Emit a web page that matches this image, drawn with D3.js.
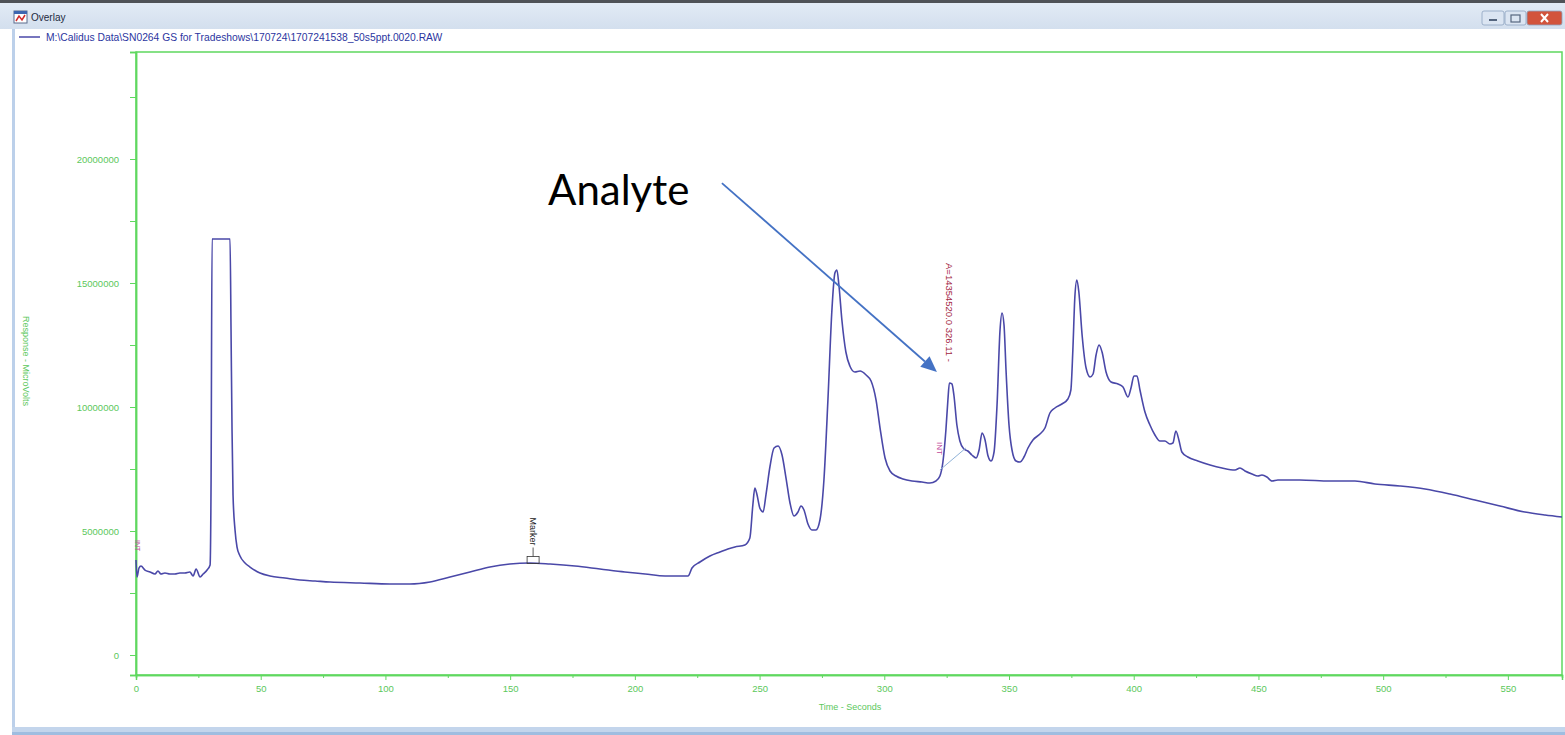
<!DOCTYPE html>
<html>
<head>
<meta charset="utf-8">
<script src="https://cdn.jsdelivr.net/npm/d3@7"></script>
<style>
  html, body { margin: 0; padding: 0; background: #ffffff; }
  svg { display: block; font-family: "Liberation Sans", Arial, sans-serif; }
</style>
</head>
<body>
<svg id="chart" width="1565" height="735"></svg>
<script>
// Chromatogram trace: retention time (s) and detector response (µV)
const timeSec = [
  0, 0.4, 1.2, 2.0, 3.6, 5.6, 7.6, 8.8, 10.0, 11.6, 13.6, 15.6, 17.6, 19.6, 21.6, 22.9, 24.1, 25.7, 26.9, 28.5,
  29.7, 30.1, 30.5, 37.7, 38.1, 38.5, 38.9, 39.7, 40.5, 41.7, 43.7, 45.7, 49.7, 53.7, 59.7, 65.7, 71.8, 77.8,
  89.8, 101.8, 109.8, 117.9, 125.9, 133.9, 141.9, 149.9, 157.9, 166.0, 176.0, 186.0, 196.0, 204.1, 212.1, 221.3,
  222.9, 226.1, 230.1, 234.1, 237.3, 240.1, 244.1, 246.1, 247.3, 248.1, 248.9, 250.1, 251.4, 252.6, 254.2, 255.8,
  257.4, 259.0, 260.6, 262.2, 263.8, 265.4, 266.6, 267.8, 269.4, 271.0, 272.6, 274.2, 275.8, 277.4, 279.0, 280.2,
  281.0, 281.8, 283.0, 284.6, 286.2, 288.2, 290.3, 292.7, 294.7, 296.7, 298.3, 300.3, 302.3, 304.7, 307.5, 311.1,
  315.1, 318.3, 320.7, 322.3, 323.5, 324.7, 325.5, 326.1, 327.1, 327.9, 329.1, 330.3, 331.9, 333.5, 335.1, 336.8,
  338.0, 339.2, 340.4, 341.6, 342.8, 344.0, 345.2, 346.4, 347.2, 348.0, 348.8, 350.0, 351.2, 352.8, 354.4, 356.0,
  357.6, 359.6, 362.4, 364.4, 366.4, 368.4, 371.2, 373.6, 374.8, 375.6, 376.4, 377.2, 378.0, 379.3, 380.9, 382.5,
  383.7, 384.9, 386.1, 387.3, 388.9, 390.9, 393.7, 395.7, 397.7, 398.9, 400.1, 401.3, 402.5, 404.5, 406.5, 408.5,
  410.5, 412.5, 414.5, 415.7, 416.9, 418.1, 419.3, 421.7, 425.7, 430.6, 435.4, 440.6, 442.6, 444.6, 447.4, 449.8,
  451.4, 453.4, 455.4, 457.8, 466.6, 478.7, 488.7, 496.7, 506.7, 516.8, 526.8, 536.8, 546.8, 556.8, 564.9, 571.7
];
const responseUV = [
  3831000, 3145000, 3508000, 3589000, 3427000, 3347000, 3266000, 3387000, 3266000, 3306000, 3266000, 3266000, 3306000, 3306000, 3347000, 3186000, 3468000, 3145000, 3266000, 3427000,
  3629000, 7057000, 16774000, 16774000, 13105000, 9073000, 6452000, 5040000, 4355000, 3992000, 3710000, 3548000, 3306000, 3186000, 3105000, 3024000, 2984000, 2944000,
  2903000, 2863000, 2863000, 2944000, 3145000, 3347000, 3548000, 3669000, 3710000, 3669000, 3589000, 3468000, 3347000, 3266000, 3186000, 3186000,
  3508000, 3750000, 3992000, 4153000, 4274000, 4355000, 4436000, 4718000, 6048000, 6734000, 6492000, 5927000, 5766000, 6492000, 7621000, 8347000,
  8428000, 8065000, 7137000, 6129000, 5605000, 5766000, 6008000, 5847000, 5282000, 5040000, 5040000, 5444000, 7057000, 10282000, 13911000, 15403000,
  15524000, 14920000, 13508000, 12218000, 11653000, 11411000, 11452000, 11290000, 11049000, 10282000, 9153000, 7944000, 7419000, 7218000, 7097000, 7016000,
  6976000, 6936000, 7016000, 7218000, 7782000, 9073000, 10282000, 10968000, 10928000, 10484000, 9274000, 8629000, 8307000, 8226000, 8065000, 7944000,
  8266000, 8952000, 8669000, 8024000, 7823000, 8186000, 10081000, 13105000, 13790000, 13307000, 11492000, 9274000, 8266000, 7823000, 7782000, 7984000,
  8347000, 8669000, 8911000, 9153000, 9758000, 9960000, 10121000, 10323000, 10686000, 12298000, 14436000, 15121000, 14637000, 12903000, 11573000, 11210000,
  11331000, 12097000, 12500000, 12218000, 11411000, 11008000, 10928000, 10807000, 10403000, 10766000, 11250000, 11250000, 10686000, 9798000, 9274000, 8871000,
  8629000, 8629000, 8508000, 8548000, 9032000, 8669000, 8186000, 7984000, 7823000, 7661000, 7540000, 7460000, 7540000, 7419000, 7298000, 7218000,
  7258000, 7177000, 7016000, 7057000, 7057000, 7016000, 7016000, 6895000, 6815000, 6694000, 6492000, 6250000, 6008000, 5766000, 5645000, 5565000
];

// Axis ticks
const yTickValues = [0, 5000000, 10000000, 15000000, 20000000];
const yTickLabels = ["0", "5000000", "10000000", "15000000", "20000000"];
const yMinorValues = [2500000, 7500000, 12500000, 17500000, 22500000];
const xTickValues = [0, 50, 100, 150, 200, 250, 300, 350, 400, 450, 500, 550];
const xMinorValues = [25, 75, 125, 175, 225, 275, 325, 375, 425, 475, 525];

// Integrated peak and marker annotations
const peakTime = 326.11;
const peakArea = 14354520.0;
const peakBaselineTimes = [322.3, 332.7];
const peakBaselineValues = [7460000, 8347000];
const markerTime = 159.2;
const markerValue = 3690000;
const callout = { text: "Analyte", textTime: 165.2, textValue: 18150000,
                  fromTime: 234.9, fromValue: 19030000, toTime: 321.1, toValue: 11410000 };
const fileName = "M:\\Calidus Data\\SN0264 GS for Tradeshows\\170724\\1707241538_50s5ppt.0020.RAW";

const svg = d3.select("#chart");
const W = 1565, H = 735;

const green = "#5fd85f";
const greenText = "#5cc85c";
const traceColor = "#4a48a8";

// ---- window chrome ----
const defs = svg.append("defs");
const tb = defs.append("linearGradient").attr("id", "titlebar").attr("x1", 0).attr("y1", 0).attr("x2", 0).attr("y2", 1);
tb.append("stop").attr("offset", "0%").attr("stop-color", "#e4ecf6");
tb.append("stop").attr("offset", "100%").attr("stop-color", "#d3dfee");

svg.append("rect").attr("x", 0).attr("y", 0).attr("width", W).attr("height", H).attr("fill", "#ffffff");
svg.append("rect").attr("x", 0).attr("y", 0).attr("width", W).attr("height", 29).attr("fill", "url(#titlebar)");
svg.append("rect").attr("x", 0).attr("y", 0).attr("width", W).attr("height", 3).attr("fill", "#4f5257");
svg.append("rect").attr("x", 12).attr("y", 29).attr("width", 3).attr("height", 700).attr("fill", "#bcd0ea");
svg.append("rect").attr("x", 12).attr("y", 727).attr("width", W - 12).attr("height", 8).attr("fill", "#c3d5ec");
svg.append("rect").attr("x", 12).attr("y", 732).attr("width", W - 12).attr("height", 3).attr("fill", "#9fbde0");

// title icon and caption
const icon = svg.append("g").attr("transform", "translate(14,11)");
icon.append("rect").attr("width", 13).attr("height", 12).attr("fill", "#ffffff").attr("stroke", "#5a6b8c");
icon.append("rect").attr("width", 13).attr("height", 3).attr("fill", "#3d66b0");
icon.append("path").attr("d", "M2,10 L5,5 L8,9 L11,4").attr("fill", "none").attr("stroke", "#d02a2a").attr("stroke-width", 1.5);
svg.append("text").attr("x", 31).attr("y", 21).attr("font-size", 10).attr("fill", "#1e2a40").text("Overlay");

// window buttons
const btns = [
  { x: 1482, w: 22, fill: "#dbe5f2" },
  { x: 1505, w: 21, fill: "#dbe5f2" },
  { x: 1527, w: 35, fill: "#d2543c" }
];
btns.forEach(b => {
  svg.append("rect").attr("x", b.x).attr("y", 11).attr("width", b.w).attr("height", 14).attr("rx", 2)
    .attr("fill", b.fill).attr("stroke", "#8ea3c0").attr("stroke-width", 0.8);
});
svg.append("line").attr("x1", 1489).attr("x2", 1497).attr("y1", 20).attr("y2", 20).attr("stroke", "#55667f").attr("stroke-width", 2);
svg.append("rect").attr("x", 1511).attr("y", 15).attr("width", 9).attr("height", 7).attr("fill", "none").attr("stroke", "#55667f").attr("stroke-width", 1.2);
svg.append("path").attr("d", "M1541,14 L1548,22 M1548,14 L1541,22").attr("stroke", "#ffffff").attr("stroke-width", 2);

// legend entry
svg.append("line").attr("x1", 19).attr("x2", 40).attr("y1", 37).attr("y2", 37).attr("stroke", traceColor).attr("stroke-width", 1.5);
svg.append("text").attr("x", 46).attr("y", 40.5).attr("font-size", 10.3).attr("fill", "#2b35a0").text(fileName);

// ---- plot area ----
const plot = { left: 136, right: 1562, top: 52, bottom: 675 };

const x = d3.scaleLinear().domain([0, 571.7]).range([plot.left, plot.right]);
const y = d3.scaleLinear().domain([-806000, 24315000]).range([plot.bottom, plot.top]);

// frame
svg.append("rect").attr("x", plot.left).attr("y", plot.top)
  .attr("width", plot.right - plot.left).attr("height", plot.bottom - plot.top)
  .attr("fill", "none").attr("stroke", green).attr("stroke-width", 1.5);

// y axis
const yAxis = svg.append("g").attr("transform", `translate(${plot.left},0)`)
  .call(d3.axisLeft(y).tickValues(yTickValues).tickSize(6).tickPadding(11)
        .tickFormat((d, i) => yTickLabels[i]));
const yMinor = svg.append("g").attr("transform", `translate(${plot.left},0)`)
  .call(d3.axisLeft(y).tickValues(yMinorValues).tickSize(6).tickFormat(""));

// x axis
const xAxis = svg.append("g").attr("transform", `translate(0,${plot.bottom})`)
  .call(d3.axisBottom(x).tickValues(xTickValues).tickSize(5).tickPadding(5).tickFormat(d3.format("d")));
const xMinor = svg.append("g").attr("transform", `translate(0,${plot.bottom})`)
  .call(d3.axisBottom(x).tickValues(xMinorValues).tickSize(3).tickFormat(""));

[yAxis, yMinor, xAxis, xMinor].forEach(g => {
  g.select(".domain").attr("stroke", green).attr("stroke-width", 1.5);
  g.selectAll(".tick line").attr("stroke", green).attr("stroke-width", 1);
  g.selectAll(".tick text").attr("fill", greenText).attr("font-size", 9.5)
    .attr("font-family", "'Liberation Sans', Arial, sans-serif");
});

// axis titles
svg.append("text").attr("transform", "translate(23,361) rotate(90)")
  .attr("text-anchor", "middle").attr("font-size", 9).attr("fill", greenText)
  .text("Response - MicroVolts");
svg.append("text").attr("x", 850).attr("y", 710).attr("text-anchor", "middle")
  .attr("font-size", 9).attr("fill", greenText).text("Time - Seconds");

// ---- trace ----
const pts = timeSec.map((t, i) => [t, responseUV[i]]);
const line = d3.line().x(d => x(d[0])).y(d => y(d[1])).curve(d3.curveMonotoneX);
svg.append("path").datum(pts).attr("d", line)
  .attr("fill", "none").attr("stroke", traceColor).attr("stroke-width", 1.6).attr("stroke-linejoin", "round");

// ---- peak integration annotations ----
svg.append("line")
  .attr("x1", x(peakBaselineTimes[0])).attr("y1", y(peakBaselineValues[0]))
  .attr("x2", x(peakBaselineTimes[1])).attr("y2", y(peakBaselineValues[1]))
  .attr("stroke", "#8fb2d8").attr("stroke-width", 1);

const peakTop = d3.max(pts.filter(d => Math.abs(d[0] - peakTime) < 1.5), d => d[1]);
svg.append("text")
  .attr("transform", `translate(${x(peakTime) - 3},${y(peakTop) - 120}) rotate(90)`)
  .attr("font-size", 9.5).attr("fill", "#a3263f")
  .text(`A=${peakArea.toFixed(1)}  ${peakTime.toFixed(2)} -`);

svg.append("text")
  .attr("transform", `translate(${x(peakBaselineTimes[0]) - 3},${y(peakBaselineValues[0]) - 28}) rotate(90)`)
  .attr("font-size", 8).attr("fill", "#c0469a").text("INT");
svg.append("text")
  .attr("transform", `translate(${x(0) - 1},${y(responseUV[0]) - 20}) rotate(90)`)
  .attr("font-size", 7).attr("fill", "#c0469a").text("INT");

// marker flag
const mx = x(markerTime), my = y(markerValue);
svg.append("rect").attr("x", mx - 6).attr("y", my - 7).attr("width", 12).attr("height", 7)
  .attr("fill", "none").attr("stroke", "#333").attr("stroke-width", 0.8);
svg.append("line").attr("x1", mx).attr("x2", mx).attr("y1", my - 7).attr("y2", my - 16)
  .attr("stroke", "#333").attr("stroke-width", 0.8);
svg.append("text").attr("transform", `translate(${mx - 3},${my - 46}) rotate(90)`)
  .attr("font-size", 9).attr("fill", "#222").text("Marker");

// ---- analyte callout ----
svg.append("text").attr("x", x(callout.textTime)).attr("y", y(callout.textValue))
  .attr("font-family", "Lato, 'Open Sans', sans-serif").attr("font-size", 42).attr("fill", "#000")
  .text(callout.text);

const ax1 = x(callout.fromTime), ay1 = y(callout.fromValue);
const ax2 = x(callout.toTime), ay2 = y(callout.toValue);
const ang = Math.atan2(ay2 - ay1, ax2 - ax1);
const headLen = 16, headW = 7;
const bx = ax2 - headLen * Math.cos(ang), by = ay2 - headLen * Math.sin(ang);
svg.append("line").attr("x1", ax1).attr("y1", ay1).attr("x2", bx).attr("y2", by)
  .attr("stroke", "#4472c4").attr("stroke-width", 1.8);
svg.append("path")
  .attr("d", `M${ax2},${ay2} L${bx + headW * Math.sin(ang)},${by - headW * Math.cos(ang)} L${bx - headW * Math.sin(ang)},${by + headW * Math.cos(ang)} Z`)
  .attr("fill", "#4472c4");
</script>
</body>
</html>
